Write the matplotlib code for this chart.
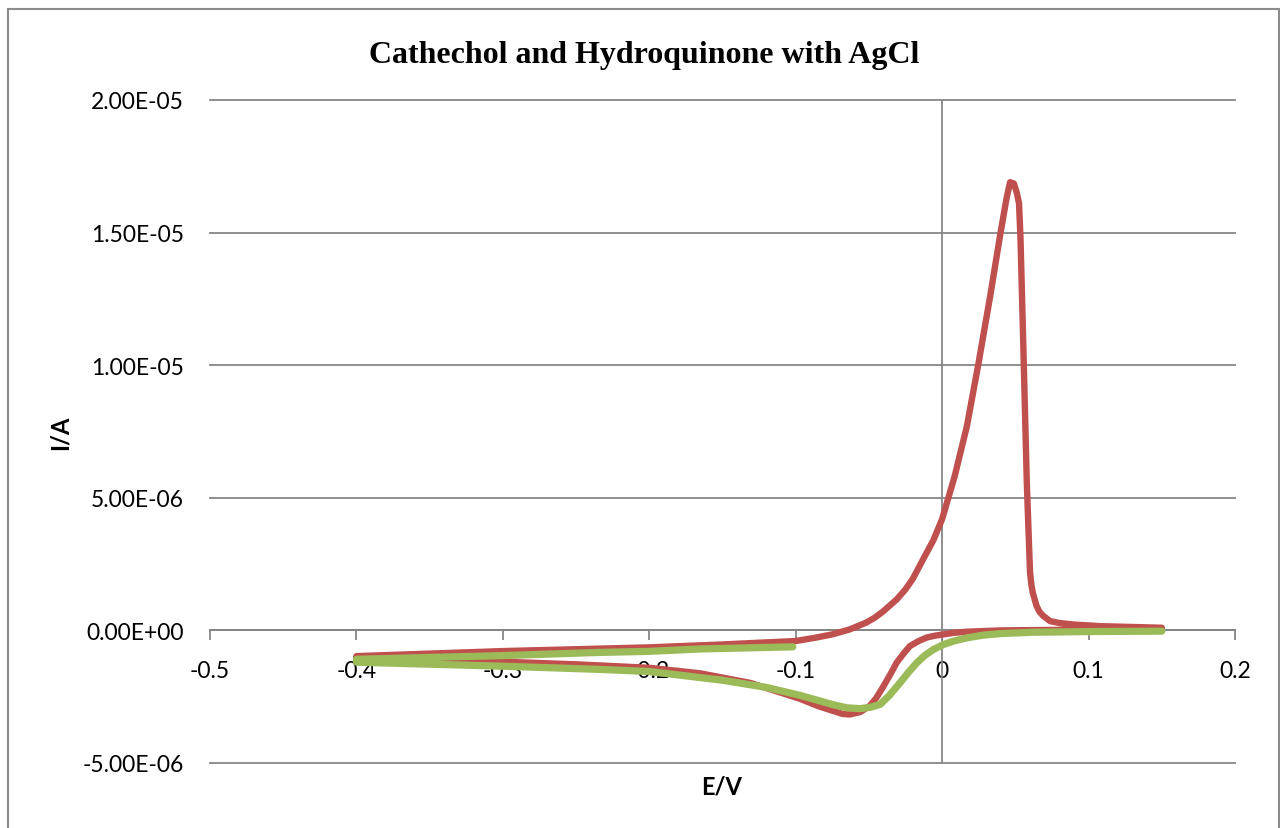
import matplotlib.pyplot as plt
from matplotlib.patches import Rectangle

# red series: forward scan (-0.4 -> 0.15) then return scan (0.15 -> -0.4)
red_E = [-0.400, -0.300, -0.200, -0.150, -0.100, -0.087, -0.075, -0.063, -0.052, -0.046,
         -0.040, -0.031, -0.025, -0.020, -0.013, -0.006, 0.000, 0.0085, 0.0169, 0.0246,
         0.0328, 0.0396, 0.0440, 0.0464, 0.0490, 0.0510, 0.0525, 0.0535, 0.0555, 0.0578,
         0.0600, 0.0610, 0.0620, 0.0645, 0.0665, 0.0690, 0.0737, 0.080, 0.090, 0.108, 0.150,
         0.150, 0.100, 0.040, 0.017, 0.008, 0.001, -0.005, -0.0106, -0.016, -0.022,
         -0.026, -0.031, -0.035, -0.040, -0.045, -0.0495, -0.056, -0.063, -0.068, -0.072,
         -0.085, -0.097, -0.131, -0.165, -0.200, -0.250, -0.300, -0.343, -0.400]
red_I = [-0.97e-6, -0.78e-6, -0.64e-6, -0.53e-6, -0.40e-6, -0.28e-6, -0.15e-6, 0.04e-6, 0.29e-6, 0.48e-6,
         0.73e-6, 1.17e-6, 1.55e-6, 1.95e-6, 2.68e-6, 3.40e-6, 4.20e-6, 5.80e-6, 7.70e-6, 10.0e-6,
         12.6e-6, 14.9e-6, 16.3e-6, 16.9e-6, 16.85e-6, 16.5e-6, 16.1e-6, 14.8e-6, 10.6e-6, 5.6e-6,
         2.2e-6, 1.7e-6, 1.4e-6, 0.92e-6, 0.70e-6, 0.55e-6, 0.35e-6, 0.28e-6, 0.22e-6, 0.16e-6, 0.10e-6,
         0.05e-6, 0.03e-6, 0.0, -0.05e-6, -0.09e-6, -0.15e-6, -0.20e-6, -0.27e-6, -0.40e-6, -0.59e-6,
         -0.85e-6, -1.21e-6, -1.62e-6, -2.10e-6, -2.55e-6, -2.85e-6, -3.08e-6, -3.17e-6, -3.15e-6, -3.08e-6,
         -2.85e-6, -2.58e-6, -1.98e-6, -1.62e-6, -1.41e-6, -1.28e-6, -1.18e-6, -1.13e-6, -1.02e-6]

# green series: -0.1 -> -0.4 then -0.4 -> 0.15
green_E = [-0.102, -0.165, -0.200, -0.234, -0.300, -0.400,
           -0.400, -0.300, -0.234, -0.200, -0.150, -0.120, -0.097, -0.0745, -0.065, -0.056,
           -0.049, -0.0423, -0.036, -0.0287, -0.023, -0.0173, -0.012, -0.006, 0.001, 0.008,
           0.017, 0.028, 0.040, 0.062, 0.108, 0.150]
green_I = [-0.62e-6, -0.70e-6, -0.79e-6, -0.83e-6, -0.95e-6, -1.09e-6,
           -1.20e-6, -1.35e-6, -1.47e-6, -1.55e-6, -1.88e-6, -2.15e-6, -2.45e-6, -2.80e-6, -2.92e-6, -2.95e-6,
           -2.90e-6, -2.79e-6, -2.45e-6, -1.97e-6, -1.58e-6, -1.22e-6, -0.95e-6, -0.72e-6, -0.53e-6, -0.40e-6,
           -0.28e-6, -0.18e-6, -0.12e-6, -0.07e-6, -0.04e-6, -0.03e-6]

xticks = [-0.5, -0.4, -0.3, -0.2, -0.1, 0.0, 0.1, 0.2]
xlabels = ['-0.5', '-0.4', '-0.3', '-0.2', '-0.1', '0', '0.1', '0.2']
yticks = [-5e-6, 0.0, 5e-6, 1e-5, 1.5e-5, 2e-5]
ylabels = ['-5.00E-06', '0.00E+00', '5.00E-06', '1.00E-05', '1.50E-05', '2.00E-05']

grey = '#868686'
font = 'Lato'

fig = plt.figure(figsize=(12.8, 8.29), dpi=100)
ax = fig.add_axes([210 / 1280, 1 - 764 / 829, 1025 / 1280, 663 / 829])

ax.plot(red_E, red_I, color='#C0504D', lw=4.6, solid_joinstyle='round',
        solid_capstyle='round', zorder=3)
ax.plot(green_E, green_I, color='#9BBB59', lw=5.2, solid_joinstyle='round',
        solid_capstyle='round', zorder=4)

ax.set_xlim(-0.5, 0.2)
ax.set_ylim(-5e-6, 2e-5)

for s in ['top', 'right', 'left']:
    ax.spines[s].set_visible(False)
ax.spines['bottom'].set_position(('data', 0))
ax.spines['bottom'].set_color(grey)
ax.spines['bottom'].set_linewidth(1.4)
ax.spines['bottom'].set_zorder(2)
ax.axvline(0, color=grey, lw=1.3, zorder=2)

ax.set_xticks(xticks, labels=xlabels, fontfamily=font, fontsize=16.5)
ax.set_yticks(yticks, labels=ylabels, fontfamily=font, fontsize=16.5)
ax.tick_params(axis='x', direction='out', length=7, width=1.3, color=grey, pad=14)
ax.tick_params(axis='y', length=0, pad=19)

ax.yaxis.grid(True, color=grey, lw=1.3, zorder=1)
ax.set_axisbelow(True)
for line in ax.get_ygridlines():
    line.set_clip_on(False)

fig.text(644 / 1280, 1 - 55 / 829, 'Cathechol and Hydroquinone with AgCl',
         ha='center', va='center', fontfamily='Liberation Serif', fontweight='bold', fontsize=23)
fig.text(722 / 1280, 1 - 787 / 829, 'E/V', ha='center', va='center',
         fontfamily=font, fontweight='bold', fontsize=17)
fig.text(60 / 1280, 1 - 433 / 829, 'I/A', ha='center', va='center', rotation=90,
         fontfamily=font, fontweight='bold', fontsize=17)

fig.patches.append(Rectangle((7.5 / 1280, -0.2), 1271 / 1280, 1.2 - 10 / 829,
                             transform=fig.transFigure, fill=False,
                             edgecolor='#8c8c8c', lw=1.5))

fig.savefig('out.png', dpi=100)
